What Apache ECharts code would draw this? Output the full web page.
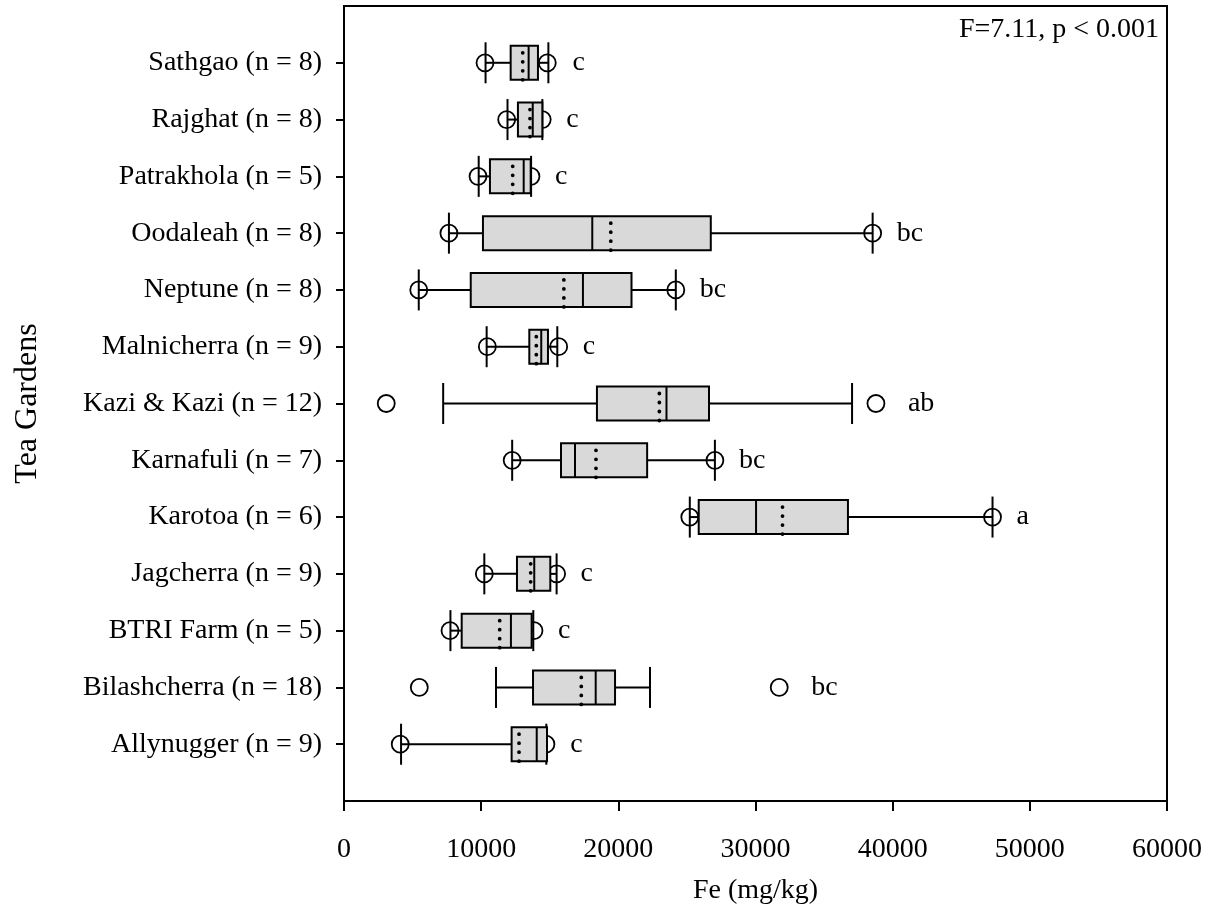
<!DOCTYPE html>
<html>
<head>
<meta charset="utf-8">
<script src="https://cdn.jsdelivr.net/npm/echarts@6/dist/echarts.min.js"></script>
<style>html,body{margin:0;padding:0;background:#fff;}#c{width:1222px;height:920px;}</style>
</head>
<body>
<div id="c"></div>
<script>
// Categories, top to bottom
const categories = ['Sathgao (n = 8)', 'Rajghat (n = 8)', 'Patrakhola (n = 5)', 'Oodaleah (n = 8)', 'Neptune (n = 8)', 'Malnicherra (n = 9)', 'Kazi & Kazi (n = 12)', 'Karnafuli (n = 7)', 'Karotoa (n = 6)', 'Jagcherra (n = 9)', 'BTRI Farm (n = 5)', 'Bilashcherra (n = 18)', 'Allynugger (n = 9)'];
// Fe (mg/kg) statistics per garden
const p5     = [10280, 11860,  9770,  7650,  5450, 10450,  3080, 12260, 25210, 10230,  7730,  5490,  4100];
const p10    = [10320, 11920,  9820,  7650,  5450, 10400,  7230, 12260, 25210, 10230,  7760, 11080,  4160];
const q1     = [12150, 12680, 10640, 10130,  9240, 13510, 18440, 15820, 25860, 12610,  8580, 13780, 12220];
const median = [13460, 13760, 13100, 18100, 17420, 14380, 23510, 16840, 30040, 13870, 12170, 18350, 14050];
const mean   = [13030, 13560, 12300, 19450, 16030, 14020, 22990, 18370, 31970, 13610, 11350, 17300, 12760];
const q3     = [14140, 14460, 13610, 26740, 20960, 14870, 26610, 22100, 36740, 15040, 13680, 19760, 14800];
const p90    = [14900, 14460, 13640, 38540, 24190, 15550, 37040, 27040, 47280, 15500, 13800, 22310, 14750];
const p95    = [14820, 14450, 13630, 38540, 24190, 15650, 38780, 27040, 47280, 15500, 13850, 31730, 14720];
const letters = ['c', 'c', 'c', 'bc', 'bc', 'c', 'ab', 'bc', 'a', 'c', 'c', 'bc', 'c'];
const xTicks = [0, 10000, 20000, 30000, 40000, 50000, 60000];
const statText = 'F=7.11, p < 0.001';

const FONT = "'Liberation Serif', 'Times New Roman', serif";
const FS = 28;
const rows = categories.map((c, i) => [i + 1, p5[i], p10[i], q1[i], median[i], mean[i], q3[i], p90[i], p95[i], i]);
const tickVals = categories.map((c, i) => i + 1);

function renderItem(params, api) {
  const y = api.value(0);
  const idx = api.value(9);
  const px = k => api.coord([api.value(k), y])[0];
  const cy = api.coord([0, y])[1];
  const xp5 = px(1), xp10 = px(2), xq1 = px(3), xmed = px(4), xmean = px(5), xq3 = px(6), xp90 = px(7), xp95 = px(8);
  const bh = 17, ch = 20.5, r = 8.5;
  const ls = {stroke: '#000', lineWidth: 2};
  const right = Math.max(xp90, xp95);
  const gap = (xp95 - xp90 > 12) ? 32 : 24;
  const children = [
    {type: 'circle', shape: {cx: xp5, cy: cy, r: r}, style: {fill: 'none', stroke: '#000', lineWidth: 1.8}},
    {type: 'circle', shape: {cx: xp95, cy: cy, r: r}, style: {fill: 'none', stroke: '#000', lineWidth: 1.8}},
    {type: 'line', shape: {x1: xp10, y1: cy, x2: xq1, y2: cy}, style: ls},
    {type: 'line', shape: {x1: xq3, y1: cy, x2: xp90, y2: cy}, style: ls},
    {type: 'line', shape: {x1: xp10, y1: cy - ch, x2: xp10, y2: cy + ch}, style: ls},
    {type: 'line', shape: {x1: xp90, y1: cy - ch, x2: xp90, y2: cy + ch}, style: ls},
    {type: 'rect', shape: {x: xq1, y: cy - bh, width: xq3 - xq1, height: 2 * bh}, style: {fill: '#d9d9d9', stroke: '#000', lineWidth: 2}},
    {type: 'line', shape: {x1: xmed, y1: cy - bh, x2: xmed, y2: cy + bh}, style: ls},
    {type: 'line', shape: {x1: xmean, y1: cy - bh + 7, x2: xmean, y2: cy + bh + 1}, style: {stroke: '#000', lineWidth: 3.8, lineCap: 'round', lineDash: [0, 9]}},
    {type: 'text', x: right + gap, y: cy, style: {text: letters[idx], fill: '#000', font: FS + 'px ' + FONT, align: 'left', verticalAlign: 'middle'}}
  ];
  return {type: 'group', children: children};
}

const chart = echarts.init(document.getElementById('c'), null, {renderer: 'canvas'});
chart.setOption({
  backgroundColor: '#fff',
  animation: false,
  title: {
    text: statText, right: 63, top: 16, padding: 0,
    textStyle: {fontFamily: FONT, fontSize: FS, fontWeight: 'normal', color: '#000'}
  },
  grid: {left: 344, right: 55, top: 6, bottom: 119, show: true, borderColor: '#000', borderWidth: 2, backgroundColor: 'transparent'},
  xAxis: {
    type: 'value', min: xTicks[0], max: xTicks[xTicks.length - 1], interval: 10000,
    name: 'Fe (mg/kg)', nameLocation: 'middle', nameGap: 76,
    nameTextStyle: {fontFamily: FONT, fontSize: FS, color: '#000'},
    axisLine: {show: true, onZero: false, lineStyle: {color: '#000', width: 2}},
    axisTick: {show: true, length: 10, inside: false, lineStyle: {color: '#000', width: 2}},
    axisLabel: {fontFamily: FONT, fontSize: FS, color: '#000', margin: 35, formatter: v => String(v)},
    splitLine: {show: false}
  },
  yAxis: {
    type: 'value', min: 0, max: 14, interval: 1, inverse: true,
    name: 'Tea Gardens', nameLocation: 'middle', nameGap: 300, nameRotate: 90,
    nameTextStyle: {fontFamily: FONT, fontSize: 32, color: '#000'},
    axisLine: {show: true, onZero: false, lineStyle: {color: '#000', width: 2}},
    axisTick: {show: true, length: 8, inside: false, customValues: tickVals, lineStyle: {color: '#000', width: 2}},
    axisLabel: {fontFamily: FONT, fontSize: FS, color: '#000', margin: 22, customValues: tickVals,
      formatter: v => (v >= 1 && v <= categories.length) ? categories[v - 1] : ''},
    splitLine: {show: false}
  },
  series: [{
    type: 'custom',
    renderItem: renderItem,
    encode: {x: [1, 2, 3, 4, 5, 6, 7, 8], y: 0},
    data: rows,
    clip: false
  }]
});
</script>
</body>
</html>
